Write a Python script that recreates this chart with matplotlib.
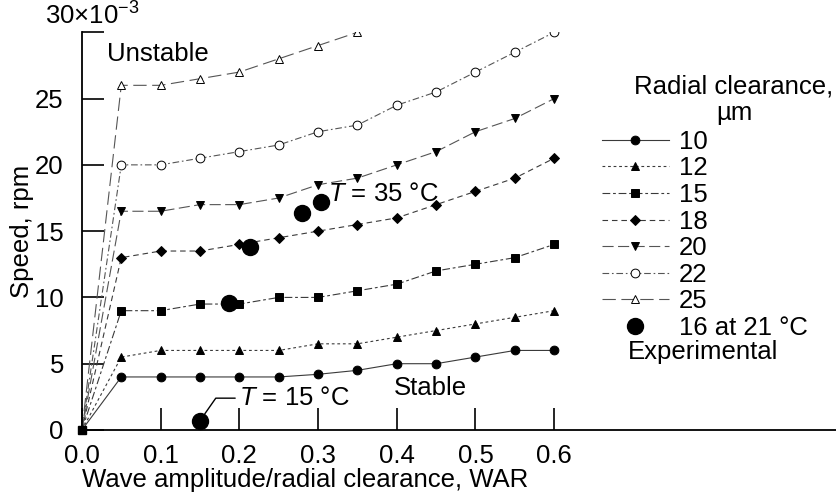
import matplotlib
matplotlib.use('Agg')
import matplotlib.pyplot as plt
from matplotlib.lines import Line2D

plt.rcParams['font.family'] = ['Liberation Sans', 'DejaVu Sans']
plt.rcParams['mathtext.fontset'] = 'custom'
plt.rcParams['mathtext.rm'] = 'Liberation Sans'
plt.rcParams['mathtext.it'] = 'Liberation Sans:italic'

# data (speed in units of 10^-3 rpm)
war = [0.0, 0.05, 0.1, 0.15, 0.2, 0.25, 0.3, 0.35, 0.4, 0.45, 0.5, 0.55, 0.6]
c10 = [0, 4, 4, 4, 4, 4, 4.2, 4.5, 5, 5, 5.5, 6, 6]
c12 = [0, 5.5, 6, 6, 6, 6, 6.5, 6.5, 7, 7.5, 8, 8.5, 9]
c15 = [0, 9, 9, 9.5, 9.5, 10, 10, 10.5, 11, 12, 12.5, 13, 14]
c18 = [0, 13, 13.5, 13.5, 14, 14.5, 15, 15.5, 16, 17, 18, 19, 20.5]
c20 = [0, 16.5, 16.5, 17, 17, 17.5, 18.5, 19, 20, 21, 22.5, 23.5, 25]
c22 = [0, 20, 20, 20.5, 21, 21.5, 22.5, 23, 24.5, 25.5, 27, 28.5, 30]
war25 = [0.0, 0.05, 0.1, 0.15, 0.2, 0.25, 0.3, 0.35]
c25 = [0, 26, 26, 26.5, 27, 28, 29, 30]
exp_war = [0.15, 0.187, 0.213, 0.28, 0.304]
exp_speed = [0.7, 9.6, 13.8, 16.4, 17.2]
labels = ['10', '12', '15', '18', '20', '22', '25']

fig = plt.figure(figsize=(8.36, 4.94), dpi=100)
ax = fig.add_axes([0.098, 0.1296, 0.902, 0.805])

fs = 18.5
lc = '#3a3a3a'
series = [
    (war, c10, 'o', 'k', '-', lc),
    (war, c12, '^', 'k', (0, (2.5, 2.5)), lc),
    (war, c15, 's', 'k', (0, (7, 2.5, 2.5, 2.5)), lc),
    (war, c18, 'D', 'k', (0, (5, 3.5)), lc),
    (war, c20, 'v', 'k', (0, (10, 4)), '#555555'),
    (war, c22, 'o', 'w', (0, (6, 2.5, 1.5, 2.5)), '#555555'),
    (war25, c25, '^', 'w', (0, (12, 5)), '#555555'),
]
handles = []
for (x, y, m, mfc, ls, col), lab in zip(series, labels):
    ms = 4.8 if m == 'D' else 6.3
    ax.plot(x, y, linestyle=ls, color=col, lw=0.8, marker=m, ms=ms,
            mfc=mfc, mec='k', mew=0.7, markevery=list(range(1, len(x))))
    handles.append(Line2D([], [], linestyle=ls, color=col, lw=0.8, marker=m,
                          ms=ms, mfc=mfc, mec='k', mew=0.7))

# origin marker
ax.plot(war[:1], c15[:1], 's', color='k', ms=6, clip_on=False, zorder=5)

ax.plot(exp_war, exp_speed, 'o', color='k', ms=11.5, zorder=6)
handles.append(Line2D([], [], linestyle='none', marker='o', color='k', ms=11.5))

ax.set_xlim(0, 0.958)
ax.set_ylim(0, 30)
ax.set_xticks([0, 0.1, 0.2, 0.3, 0.4, 0.5, 0.6])
ax.set_xticklabels(['0.0', '0.1', '0.2', '0.3', '0.4', '0.5', '0.6'])
ax.set_yticks([0, 5, 10, 15, 20, 25, 30])
ax.set_yticklabels(['0', '5', '10', '15', '20', '25', ''])
ax.tick_params(direction='in', length=16, width=1.2, labelsize=fs)
ax.tick_params(axis='x', pad=10)
ax.tick_params(axis='y', pad=13)
ax.spines['top'].set_visible(False)
ax.spines['right'].set_visible(False)
ax.spines['left'].set_linewidth(1.3)
ax.spines['bottom'].set_linewidth(1.3)

ax.set_xlabel('Wave amplitude/radial clearance, WAR', fontsize=fs, labelpad=0,
              loc='left')
ax.set_ylabel('Speed, rpm', fontsize=fs, labelpad=1)

ax.text(0.013, 30.2, r'30$\times$10$^{-3}$', fontsize=fs, ha='center', va='bottom',
        transform=ax.transData, clip_on=False)
ax.text(0.032, 28.4, 'Unstable', fontsize=fs, va='center')
ax.text(0.396, 3.2, 'Stable', fontsize=fs, va='center')
ax.text(0.313, 17.8, r'$\it{T}$ = 35 °C', fontsize=fs, va='center')
ax.annotate(r'$\it{T}$ = 15 °C', xy=(0.15, 0.7), xytext=(0.2, 2.4),
            fontsize=fs, va='center',
            arrowprops=dict(arrowstyle='-', color='k', lw=1,
                            connectionstyle='angle,angleA=0,angleB=55',
                            relpos=(0, 0.5), shrinkA=1, shrinkB=6))

fig.text(0.878, 0.798, 'Radial clearance,\n\u00b5m', fontsize=fs, ha='center',
         va='center', linespacing=1.15)
ax.legend(handles, labels + ['16 at 21 °C'], loc='upper left',
          bbox_to_anchor=(0.72, 0.737), bbox_transform=fig.transFigure,
          frameon=False, fontsize=fs, handlelength=2.6, handletextpad=0.4,
          labelspacing=0.1, borderpad=0, borderaxespad=0)
fig.text(0.751, 0.287, 'Experimental', fontsize=fs, va='center')

fig.savefig('out.png', dpi=100)
